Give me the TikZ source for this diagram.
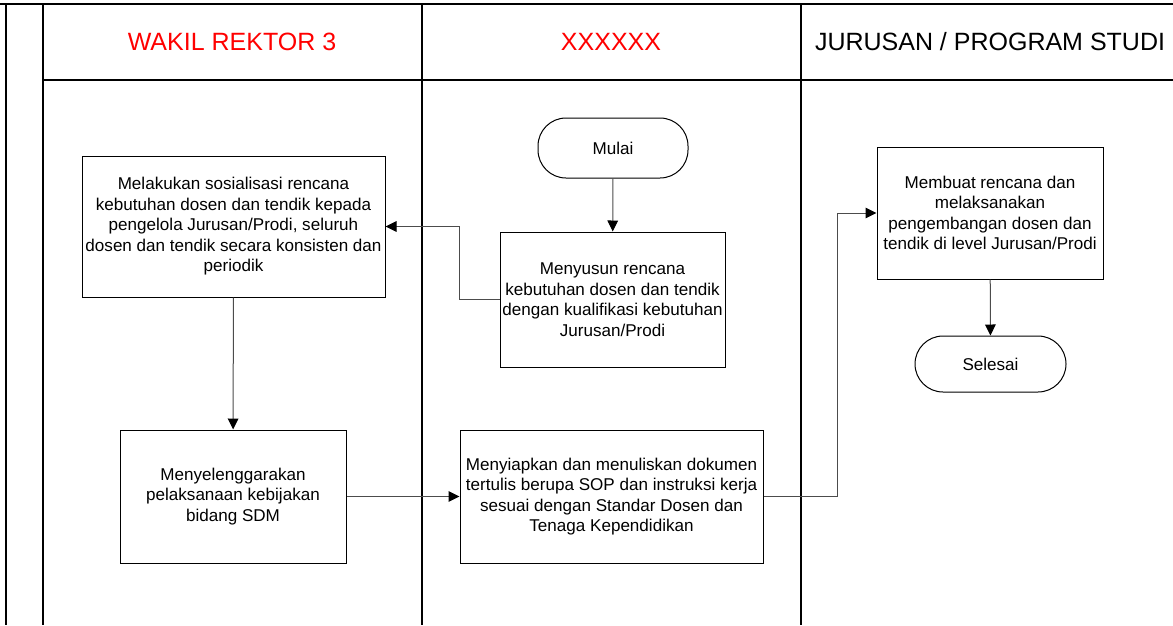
\documentclass[tikz,border=0pt]{standalone}
\usepackage{fontspec}
\setmainfont{Liberation Sans}
\usetikzlibrary{arrows.meta,positioning}

\begin{document}
\begin{tikzpicture}[x=0.75pt,y=-0.75pt,every node/.style={font=\fontsize{12.8}{15.4}\selectfont,align=center,inner sep=0pt},proses/.style={draw,line width=0.75pt},terminal/.style={draw,line width=0.75pt,rounded corners=21pt},lajur/.style={line width=0.8pt},judul/.style={font=\fontsize{18.75}{22}\selectfont},alur/.style={black!70,line width=0.75pt,-{Triangle[length=8.25pt,width=8pt,black]}}]

\useasboundingbox (0,0) rectangle (1173,625);

% lajur (swimlane)
\draw[line width=1.5pt] (0,4) -- (1173,4);
\foreach \x in {6,43,422,801}
  \draw[lajur] (\x,4) -- (\x,625);
\draw[lajur] (43,80) -- (1173,80);

\node[judul,text=red] (wr3) at (232,42) {WAKIL REKTOR 3};
\node[judul,text=red] (xx) at (611,42) {XXXXXX};
\node[judul] (prodi) at (990,42) {JURUSAN / PROGRAM STUDI};

% langkah
\node[terminal,minimum width=112.5pt,minimum height=45pt] (mulai) at (613,148) {Mulai};
\node[proses,minimum width=168.75pt,minimum height=101.25pt] (menyusun) at (612.5,299.5) {Menyusun rencana\\kebutuhan dosen dan tendik\\dengan kualifikasi kebutuhan\\Jurusan/Prodi};
\node[proses,minimum width=227.25pt,minimum height=105.75pt] (sosialisasi) at (233.5,226.5) {Melakukan sosialisasi rencana\\kebutuhan dosen dan tendik kepada\\pengelola Jurusan/Prodi, seluruh\\dosen dan tendik secara konsisten dan\\periodik};
\node[proses,minimum width=169.5pt,minimum height=99.75pt] (sdm) at (233,496.5) {Menyelenggarakan\\pelaksanaan kebijakan\\bidang SDM};
\node[proses,minimum width=227.25pt,minimum height=99.75pt] (sop) at (611.5,496.5) {Menyiapkan dan menuliskan dokumen\\tertulis berupa SOP dan instruksi kerja\\sesuai dengan Standar Dosen dan\\Tenaga Kependidikan};
\node[proses,minimum width=169.5pt,minimum height=99pt] (membuat) at (990,213) {Membuat rencana dan\\melaksanakan\\pengembangan dosen dan\\tendik di level Jurusan/Prodi};
\node[terminal,minimum width=113.25pt,minimum height=42pt] (selesai) at (990.5,364) {Selesai};

% alur
\draw[alur] (mulai) -- (menyusun);
\draw[alur] (menyusun.west) -- ++(-40,0) |- (sosialisasi.east);
\draw[alur] (sosialisasi) -- (sdm);
\draw[alur] (sdm) -- (sop);
\draw[alur] (sop.east) -- ++(74,0) |- (membuat.west);
\draw[alur] (membuat) -- (selesai);
\end{tikzpicture}
\end{document}
